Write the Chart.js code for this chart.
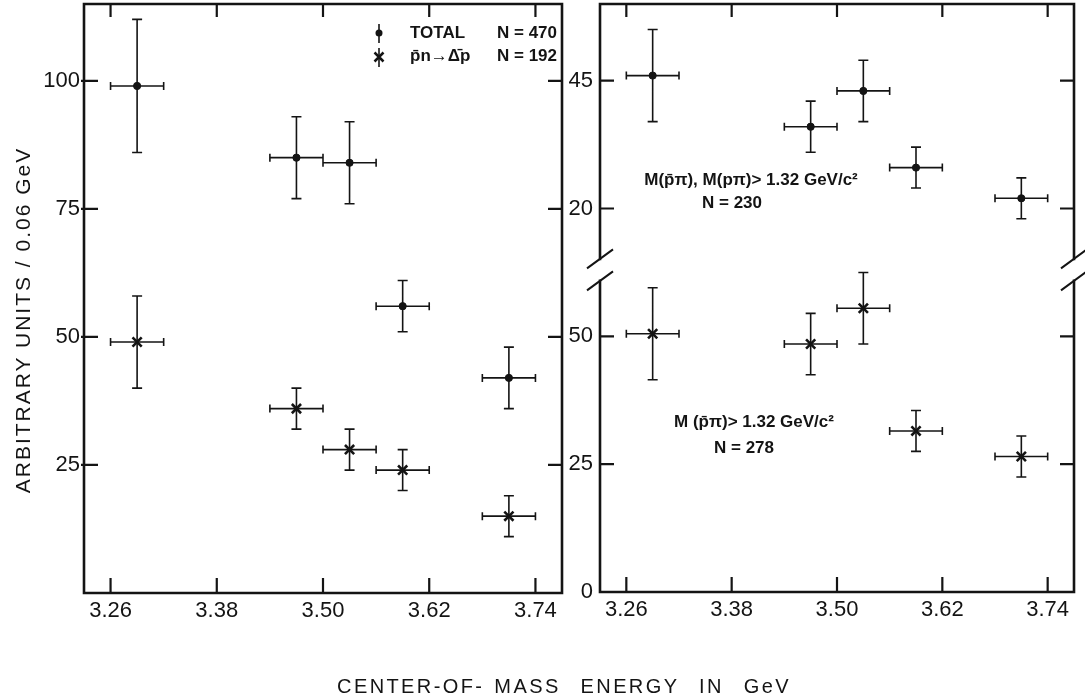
<!DOCTYPE html>
<html>
<head>
<meta charset="utf-8">
<script src="https://cdn.jsdelivr.net/npm/chart.js@4.4.1/dist/chart.umd.min.js"></script>
<style>
  html, body { margin: 0; padding: 0; background: #fff; }
  #wrap { position: relative; width: 1085px; height: 700px; overflow: hidden; background: #fff; }
  #wrap canvas { position: absolute; left: 0; top: 0; }
  .title { position: absolute; color: #141414; font-family: 'Liberation Sans', Arial, sans-serif;
           white-space: pre; text-align: center; height: 24px; line-height: 24px; }
  #yTitle { left: -177px; top: 308px; width: 400px; font-size: 21px; letter-spacing: 2px;
            transform: rotate(-90deg); }
  #xTitle { left: 264px; top: 674px; width: 600px; font-size: 20px; letter-spacing: 2.4px; word-spacing: 2px; }
</style>
</head>
<body>
<div id="wrap">
  <canvas id="leftChart" width="1085" height="700"></canvas>
  <canvas id="rightChart" width="1085" height="700"></canvas>
  <div class="title" id="yTitle">ARBITRARY UNITS / 0.06 GeV</div>
  <div class="title" id="xTitle">CENTER-OF- MASS  ENERGY  IN  GeV</div>
</div>
<script>
/* ---------------- DATA ---------------- */

// bin centres, each bin is 0.06 GeV wide
const energies = [3.29, 3.47, 3.53, 3.59, 3.71];
const binHalfWidth = 0.03;

// left panel
const totalCounts = [99, 85, 84, 56, 42];
const totalErrors = [13, 8, 8, 5, 6];
const deltaCounts = [49, 36, 28, 24, 15];
const deltaErrors = [9, 4, 4, 4, 4];

// right panel, upper part (read on the 20 / 45 scale)
const bothCutCounts = [46, 36, 43, 28, 22];
const bothCutErrors = [9, 5, 6, 4, 4];
// right panel, lower part (read on the 0 / 25 / 50 scale)
const oneCutCounts = [50.5, 48.5, 55.5, 31.5, 26.5];
const oneCutErrors = [9, 6, 7, 4, 4];

const energyTicks = [3.26, 3.38, 3.50, 3.62, 3.74];
const leftTicks = [25, 50, 75, 100];
const lowerTicks = [0, 25, 50];
const upperTicks = [20, 45];
const upperOffset = 55;   // upper part of the broken axis is shifted up by this much
const breakValue = 63;

const seriesNames = ["TOTAL", "p\u0304n\u2192\u0394\u0304p"];
const seriesSizes = [470, 192];
const cutNames = ["M(p\u0304\u03c0), M(p\u03c0)> 1.32 GeV/c\u00b2", "M (p\u0304\u03c0)> 1.32 GeV/c\u00b2"];
const cutSizes = [230, 278];

/* ---------------- STYLE ---------------- */

const ink = "#141414";
const fontFamily = "'Liberation Sans', Arial, sans-serif";
const noteFont = "bold 17px " + fontFamily;

/* ---------------- PLUGINS ---------------- */

// crossed error bars, drawn under the markers
const errorBars = {
  id: "errorBars",
  beforeDatasetsDraw(chart) {
    const { ctx, scales: { x, y } } = chart;
    ctx.save();
    ctx.strokeStyle = ink;
    ctx.lineWidth = 1.6;
    ctx.beginPath();
    chart.data.datasets.forEach(ds => {
      ds.data.forEach((p, i) => {
        const px = x.getPixelForValue(p.x);
        const py = y.getPixelForValue(p.y);
        const x0 = x.getPixelForValue(p.x - binHalfWidth);
        const x1 = x.getPixelForValue(p.x + binHalfWidth);
        const y0 = y.getPixelForValue(p.y - ds.yErr[i]);
        const y1 = y.getPixelForValue(p.y + ds.yErr[i]);
        ctx.moveTo(x0, py); ctx.lineTo(x1, py);
        ctx.moveTo(x0, py - 4); ctx.lineTo(x0, py + 4);
        ctx.moveTo(x1, py - 4); ctx.lineTo(x1, py + 4);
        ctx.moveTo(px, y0); ctx.lineTo(px, y1);
        ctx.moveTo(px - 5, y0); ctx.lineTo(px + 5, y0);
        ctx.moveTo(px - 5, y1); ctx.lineTo(px + 5, y1);
      });
    });
    ctx.stroke();
    ctx.restore();
  }
};

// box frame with inward ticks on all four sides, optional axis break
const frame = {
  id: "frame",
  afterDraw(chart, args, opts) {
    const { ctx, chartArea: a, scales: { x, y } } = chart;
    let gap = null;
    if (opts.breakAt != null) {
      const yb = y.getPixelForValue(opts.breakAt);
      gap = [yb - 11, yb + 11];
    }
    ctx.save();
    ctx.strokeStyle = ink;
    ctx.lineWidth = 2.6;
    ctx.lineCap = "square";
    ctx.beginPath();
    [a.left, a.right].forEach(xp => {
      if (gap) {
        ctx.moveTo(xp, a.top); ctx.lineTo(xp, gap[0]);
        ctx.moveTo(xp, gap[1]); ctx.lineTo(xp, a.bottom);
      } else {
        ctx.moveTo(xp, a.top); ctx.lineTo(xp, a.bottom);
      }
    });
    ctx.moveTo(a.left, a.top); ctx.lineTo(a.right, a.top);
    ctx.moveTo(a.left, a.bottom); ctx.lineTo(a.right, a.bottom);
    ctx.stroke();

    ctx.lineCap = "butt";
    ctx.lineWidth = 2.2;
    ctx.beginPath();
    x.ticks.forEach(t => {
      const xp = x.getPixelForValue(t.value);
      ctx.moveTo(xp, a.bottom); ctx.lineTo(xp, a.bottom - 15);
      ctx.moveTo(xp, a.top); ctx.lineTo(xp, a.top + 13);
    });
    y.ticks.forEach(t => {
      if (t.value === 0) return;
      const yp = y.getPixelForValue(t.value);
      ctx.moveTo(a.left - opts.tickOut, yp); ctx.lineTo(a.left + 14, yp);
      ctx.moveTo(a.right - 14, yp); ctx.lineTo(a.right, yp);
    });
    ctx.stroke();

    if (gap) {
      ctx.lineWidth = 2;
      ctx.beginPath();
      [a.left, a.right].forEach(xp => {
        gap.forEach(g => { ctx.moveTo(xp - 13, g + 9.5); ctx.lineTo(xp + 13, g - 9.5); });
      });
      ctx.stroke();
    }
    ctx.restore();
  }
};

// free text inside a panel plus the small marker key
const notes = {
  id: "notes",
  afterDraw(chart, args, opts) {
    const ctx = chart.ctx;
    ctx.save();
    ctx.fillStyle = ink;
    ctx.strokeStyle = ink;
    ctx.font = noteFont;
    ctx.textBaseline = "middle";
    (opts.items || []).forEach(n => {
      ctx.textAlign = n.align || "left";
      ctx.fillText(n.text, n.x, n.y);
    });
    (opts.keys || []).forEach(k => {
      ctx.lineWidth = 1.6;
      ctx.beginPath();
      ctx.moveTo(k.x, k.y - 9); ctx.lineTo(k.x, k.y + 10);
      ctx.stroke();
      if (k.marker === "dot") {
        ctx.beginPath();
        ctx.arc(k.x, k.y, 3.5, 0, Math.PI * 2);
        ctx.fill();
      } else {
        ctx.lineWidth = 2.5;
        ctx.beginPath();
        ctx.moveTo(k.x - 4.5, k.y - 4.5); ctx.lineTo(k.x + 4.5, k.y + 4.5);
        ctx.moveTo(k.x - 4.5, k.y + 4.5); ctx.lineTo(k.x + 4.5, k.y - 4.5);
        ctx.stroke();
      }
    });
    ctx.restore();
  }
};

/* ---------------- HELPERS ---------------- */

function points(values, shift = 0) {
  return energies.map((e, i) => ({ x: e, y: values[i] + shift }));
}

function dotSet(values, errors, shift) {
  return {
    data: points(values, shift), yErr: errors,
    pointStyle: "circle", pointRadius: 3.6, pointBackgroundColor: ink, pointBorderColor: ink,
    pointBorderWidth: 1, showLine: false
  };
}

function crossSet(values, errors, shift) {
  return {
    data: points(values, shift), yErr: errors,
    pointStyle: "crossRot", pointRadius: 6.5, pointBorderColor: ink,
    pointBorderWidth: 2.6, showLine: false
  };
}

function energyAxis() {
  return {
    type: "linear", min: 3.23, max: 3.77,
    afterBuildTicks: s => { s.ticks = energyTicks.map(v => ({ value: v })); },
    afterFit: s => { s.height = 40; s.paddingLeft = 0; s.paddingRight = 0; },
    grid: { display: false, drawTicks: false },
    border: { display: false },
    ticks: {
      color: ink, font: { family: fontFamily, size: 22 }, padding: 5,
      maxRotation: 0, autoSkip: false, callback: v => v.toFixed(2)
    }
  };
}

function countAxis(tickValues, width, pad, label) {
  return {
    type: "linear", min: 0, max: 115,
    afterBuildTicks: s => { s.ticks = tickValues.map(v => ({ value: v })); },
    afterFit: s => { s.width = width; s.paddingTop = 0; s.paddingBottom = 0; },
    grid: { display: false, drawTicks: false },
    border: { display: false },
    ticks: {
      color: ink, font: { family: fontFamily, size: 22 }, padding: pad,
      autoSkip: false, callback: label
    }
  };
}

function baseOptions(padding) {
  return {
    responsive: false,
    animation: false,
    devicePixelRatio: 1,
    layout: { padding, autoPadding: false },
    events: []
  };
}

/* ---------------- LEFT PANEL ---------------- */

const leftOptions = baseOptions({ left: 0, right: 523, top: 4, bottom: 67 });
leftOptions.scales = { x: energyAxis(), y: countAxis(leftTicks, 84, 4, v => String(v)) };
leftOptions.plugins = {
  legend: { display: false },
  tooltip: { enabled: false },
  frame: { tickOut: 3, breakAt: null },
  notes: {
    items: [
      { text: seriesNames[0], x: 410, y: 33 },
      { text: "N = " + seriesSizes[0], x: 497, y: 33 },
      { text: seriesNames[1], x: 410, y: 56 },
      { text: "N = " + seriesSizes[1], x: 497, y: 56 }
    ],
    keys: [
      { marker: "dot", x: 379, y: 33 },
      { marker: "cross", x: 379, y: 57 }
    ]
  }
};

new Chart(document.getElementById("leftChart"), {
  type: "scatter",
  data: {
    datasets: [
      dotSet(totalCounts, totalErrors, 0),
      crossSet(deltaCounts, deltaErrors, 0)
    ]
  },
  options: leftOptions,
  plugins: [errorBars, frame, notes]
});

/* ---------------- RIGHT PANEL ---------------- */

const rightTicks = lowerTicks.concat(upperTicks.map(v => v + upperOffset));

const rightOptions = baseOptions({ left: 560, right: 11, top: 4, bottom: 68 });
rightOptions.scales = {
  x: energyAxis(),
  y: countAxis(rightTicks, 40, 7, v => String(v > breakValue ? v - upperOffset : v))
};
rightOptions.plugins = {
  legend: { display: false },
  tooltip: { enabled: false },
  frame: { tickOut: 0, breakAt: breakValue },
  notes: {
    items: [
      { text: cutNames[0], x: 751, y: 180, align: "center" },
      { text: "N = " + cutSizes[0], x: 732, y: 203, align: "center" },
      { text: cutNames[1], x: 754, y: 422, align: "center" },
      { text: "N = " + cutSizes[1], x: 744, y: 448, align: "center" }
    ]
  }
};

new Chart(document.getElementById("rightChart"), {
  type: "scatter",
  data: {
    datasets: [
      dotSet(bothCutCounts, bothCutErrors, upperOffset),
      crossSet(oneCutCounts, oneCutErrors, 0)
    ]
  },
  options: rightOptions,
  plugins: [errorBars, frame, notes]
});
</script>
</body>
</html>
